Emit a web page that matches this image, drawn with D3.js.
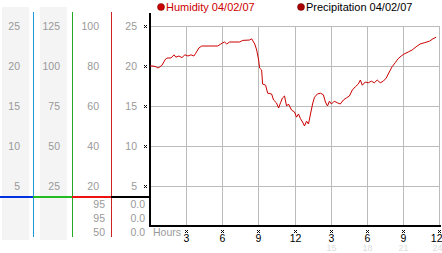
<!DOCTYPE html>
<html>
<head>
<meta charset="utf-8">
<script src="https://cdn.jsdelivr.net/npm/d3@7"></script>
<style>
  body { margin: 0; background: #fff; }
  svg { display: block; font-family: "Liberation Sans", Arial, sans-serif; }
  line { shape-rendering: crispEdges; }
</style>
</head>
<body>
<svg id="chart" width="442" height="253"></svg>
<script>
// humidity trace, hours since start of day
const hours = [0, 0.25, 0.5, 0.66, 0.83, 1.0, 1.24, 1.4, 1.74, 2.0, 2.15, 2.4, 2.65, 2.9, 3.15, 3.4, 3.64, 3.8,
  4.06, 4.3, 4.97, 5.63, 5.88, 6.04, 6.2, 6.37, 6.6, 7.45, 7.7, 8.28, 8.44, 8.7, 8.86, 9.02, 9.1, 9.27, 9.35,
  9.6, 9.77, 10.1, 10.26, 10.5, 10.68, 10.84, 11.0, 11.17, 11.34, 11.5, 11.75, 12.0, 12.17, 12.33, 12.5, 12.67,
  12.83, 13.0, 13.16, 13.33, 13.5, 13.66, 13.9, 14.16, 14.4, 14.57, 14.74, 14.9, 15.07, 15.3, 15.56, 15.8,
  16.06, 16.3, 16.56, 16.8, 17.05, 17.3, 17.47, 17.63, 17.88, 18.13, 18.38, 18.63, 18.87, 19.12, 19.37, 19.62,
  19.87, 20.1, 20.36, 20.6, 20.86, 21.1, 21.44, 21.77, 22.1, 22.43, 22.77, 23.2, 23.5, 23.76];
const humidity = [20.0, 20.0, 19.9, 19.75, 19.9, 20.1, 20.75, 21.0, 21.0, 21.4, 21.1, 21.25, 21.05, 21.4, 21.25,
  21.4, 21.25, 21.6, 22.25, 22.5, 22.5, 22.5, 22.75, 22.9, 23.0, 22.75, 23.0, 23.0, 23.2, 23.25, 23.4, 22.75,
  22.0, 20.75, 19.75, 19.5, 17.75, 17.6, 16.6, 16.5, 15.75, 15.4, 14.75, 15.4, 16.0, 16.25, 15.0, 15.25, 14.5,
  14.25, 13.6, 14.0, 13.4, 13.0, 12.5, 13.1, 12.75, 14.0, 15.25, 16.1, 16.5, 16.6, 16.4, 15.5, 15.0, 15.6, 15.25,
  15.6, 15.4, 15.25, 15.75, 16.0, 16.25, 17.0, 17.4, 17.75, 18.25, 17.6, 18.0, 17.9, 18.1, 17.9, 18.25, 17.9,
  18.1, 18.5, 19.25, 19.9, 20.4, 20.9, 21.25, 21.5, 21.75, 22.0, 22.4, 22.75, 22.9, 23.1, 23.4, 23.6];

const mainTicks = [5, 10, 15, 20, 25];
const col1Ticks = [5, 10, 15, 20, 25];
const col2Ticks = [25, 50, 75, 100, 125];
const col3Ticks = [20, 40, 60, 80, 100];
const col3Bottom = ["95", "95", "50"];
const col4Bottom = ["0.0", "0.0", "0.0"];
const xTicks = [3, 6, 9, 12, 15, 18, 21, 24];
const xTickLabels = ["3", "6", "9", "12", "3", "6", "9", "12"];
const legend = [
  { label: "Humidity 04/02/07", color: "#cc0000", text: "#cc0000" },
  { label: "Precipitation 04/02/07", color: "#aa0000", text: "#000" }
];

const svg = d3.select("#chart");
const x = d3.scaleLinear().domain([0, 24]).range([150, 439]);
const y = d3.scaleLinear().domain([0, 25]).range([226, 26]);
const y2 = d3.scaleLinear().domain([0, 125]).range([226, 26]);
const y3 = d3.scaleLinear().domain([0, 100]).range([226, 26]);
const grey = "#999";

// left scale panel backgrounds
svg.append("rect").attr("x", 2).attr("y", 7).attr("width", 27).attr("height", 233).attr("fill", "#f4f4f4");
svg.append("rect").attr("x", 40).attr("y", 7).attr("width", 27).attr("height", 233).attr("fill", "#f4f4f4");

function colLabels(ticks, scale, xr) {
  svg.append("g").selectAll("text").data(ticks).join("text")
    .attr("x", xr).attr("y", d => scale(d)).attr("dy", "0.35em")
    .attr("text-anchor", "end").attr("font-size", 10.5).attr("fill", grey)
    .text(d => d);
}
colLabels(col1Ticks, y, 20);
colLabels(col2Ticks, y2, 60);
colLabels(col3Ticks, y3, 99);
colLabels(mainTicks, y, 137);

// vertical separators
[[33, "#1e9ad6"], [72, "#22aa22"], [111, "#cc2222"]].forEach(([cx, c]) => {
  svg.append("rect").attr("x", cx).attr("y", 12).attr("width", 1).attr("height", 225).attr("fill", c);
});
// coloured baseline
[[0, 33, "#0033dd"], [33, 72, "#22bb22"], [72, 111, "#ee1111"], [111, 150, "#000"]].forEach(([a, b, c]) => {
  svg.append("rect").attr("x", a).attr("y", 196).attr("width", b - a).attr("height", 2).attr("fill", c);
});
svg.append("g").selectAll("text").data(col3Bottom).join("text")
  .attr("x", 105).attr("y", (d, i) => 204 + i * 14).attr("dy", "0.35em")
  .attr("text-anchor", "end").attr("font-size", 10.5).attr("fill", grey).text(d => d);
svg.append("g").selectAll("text").data(col4Bottom).join("text")
  .attr("x", 145).attr("y", (d, i) => 204 + i * 14).attr("dy", "0.35em")
  .attr("text-anchor", "end").attr("font-size", 10.5).attr("fill", grey).text(d => d);

// grid
svg.append("g").selectAll("line").data(mainTicks).join("line")
  .attr("x1", x(0)).attr("x2", x(24)).attr("y1", d => Math.round(y(d)) + 0.5).attr("y2", d => Math.round(y(d)) + 0.5)
  .attr("stroke", "#bbb");
svg.append("g").selectAll("line").data(xTicks).join("line")
  .attr("x1", d => Math.round(x(d)) + 0.5).attr("x2", d => Math.round(x(d)) + 0.5).attr("y1", y(25)).attr("y2", y(0))
  .attr("stroke", "#bbb");

// little hatch tick markers
function hatch(cx, cy) {
  const g = svg.append("g");
  [[0, 0], [2, 0], [1, 1], [0, 2], [2, 2]].forEach(([dx, dy]) => {
    g.append("rect").attr("x", cx + dx).attr("y", cy + dy).attr("width", 1).attr("height", 1).attr("fill", "#000");
  });
}
mainTicks.forEach(d => hatch(144, Math.round(y(d)) - 1));
xTicks.forEach(d => hatch(Math.round(x(d)) - 1, 230));

// axes
svg.append("rect").attr("x", 149).attr("y", 13).attr("width", 2).attr("height", 214).attr("fill", "#000");
svg.append("rect").attr("x", 149).attr("y", 225).attr("width", 292).attr("height", 2).attr("fill", "#000");

svg.append("g").selectAll("text").data(xTicks).join("text")
  .attr("x", d => Math.round(x(d)) + 0.5).attr("y", 238.5).attr("dy", "0.35em")
  .attr("text-anchor", d => d === 24 ? "end" : "middle").attr("dx", d => d === 24 ? 3 : 0)
  .attr("font-size", 10.5).attr("fill", "#000").text((d, i) => xTickLabels[i]);
svg.append("g").selectAll("text").data(xTicks.slice(4)).join("text")
  .attr("x", d => Math.round(x(d)) + 0.5).attr("y", 248).attr("dy", "0.35em")
  .attr("text-anchor", d => d === 24 ? "end" : "middle").attr("dx", d => d === 24 ? 3 : 0)
  .attr("font-size", 9).attr("fill", "#ddd").text(d => d);
svg.append("text").attr("x", 153).attr("y", 232).attr("dy", "0.35em")
  .attr("font-size", 10.5).attr("fill", grey).text("Hours");

// humidity line
const line = d3.line().x((d, i) => x(hours[i])).y(d => y(d));
svg.append("path").datum(humidity).attr("d", line)
  .attr("fill", "none").attr("stroke", "#cc0000").attr("stroke-width", 1);

// legend
const lg = svg.append("g").selectAll("g").data(legend).join("g")
  .attr("transform", (d, i) => `translate(${i ? 301 : 161},7)`);
lg.append("circle").attr("r", 3.5).attr("fill", d => d.color).attr("stroke", "#600").attr("stroke-width", 0.5);
lg.append("text").attr("x", 5).attr("dy", "0.35em").attr("font-size", 11)
  .attr("fill", d => d.text).text(d => d.label);
</script>
</body>
</html>
